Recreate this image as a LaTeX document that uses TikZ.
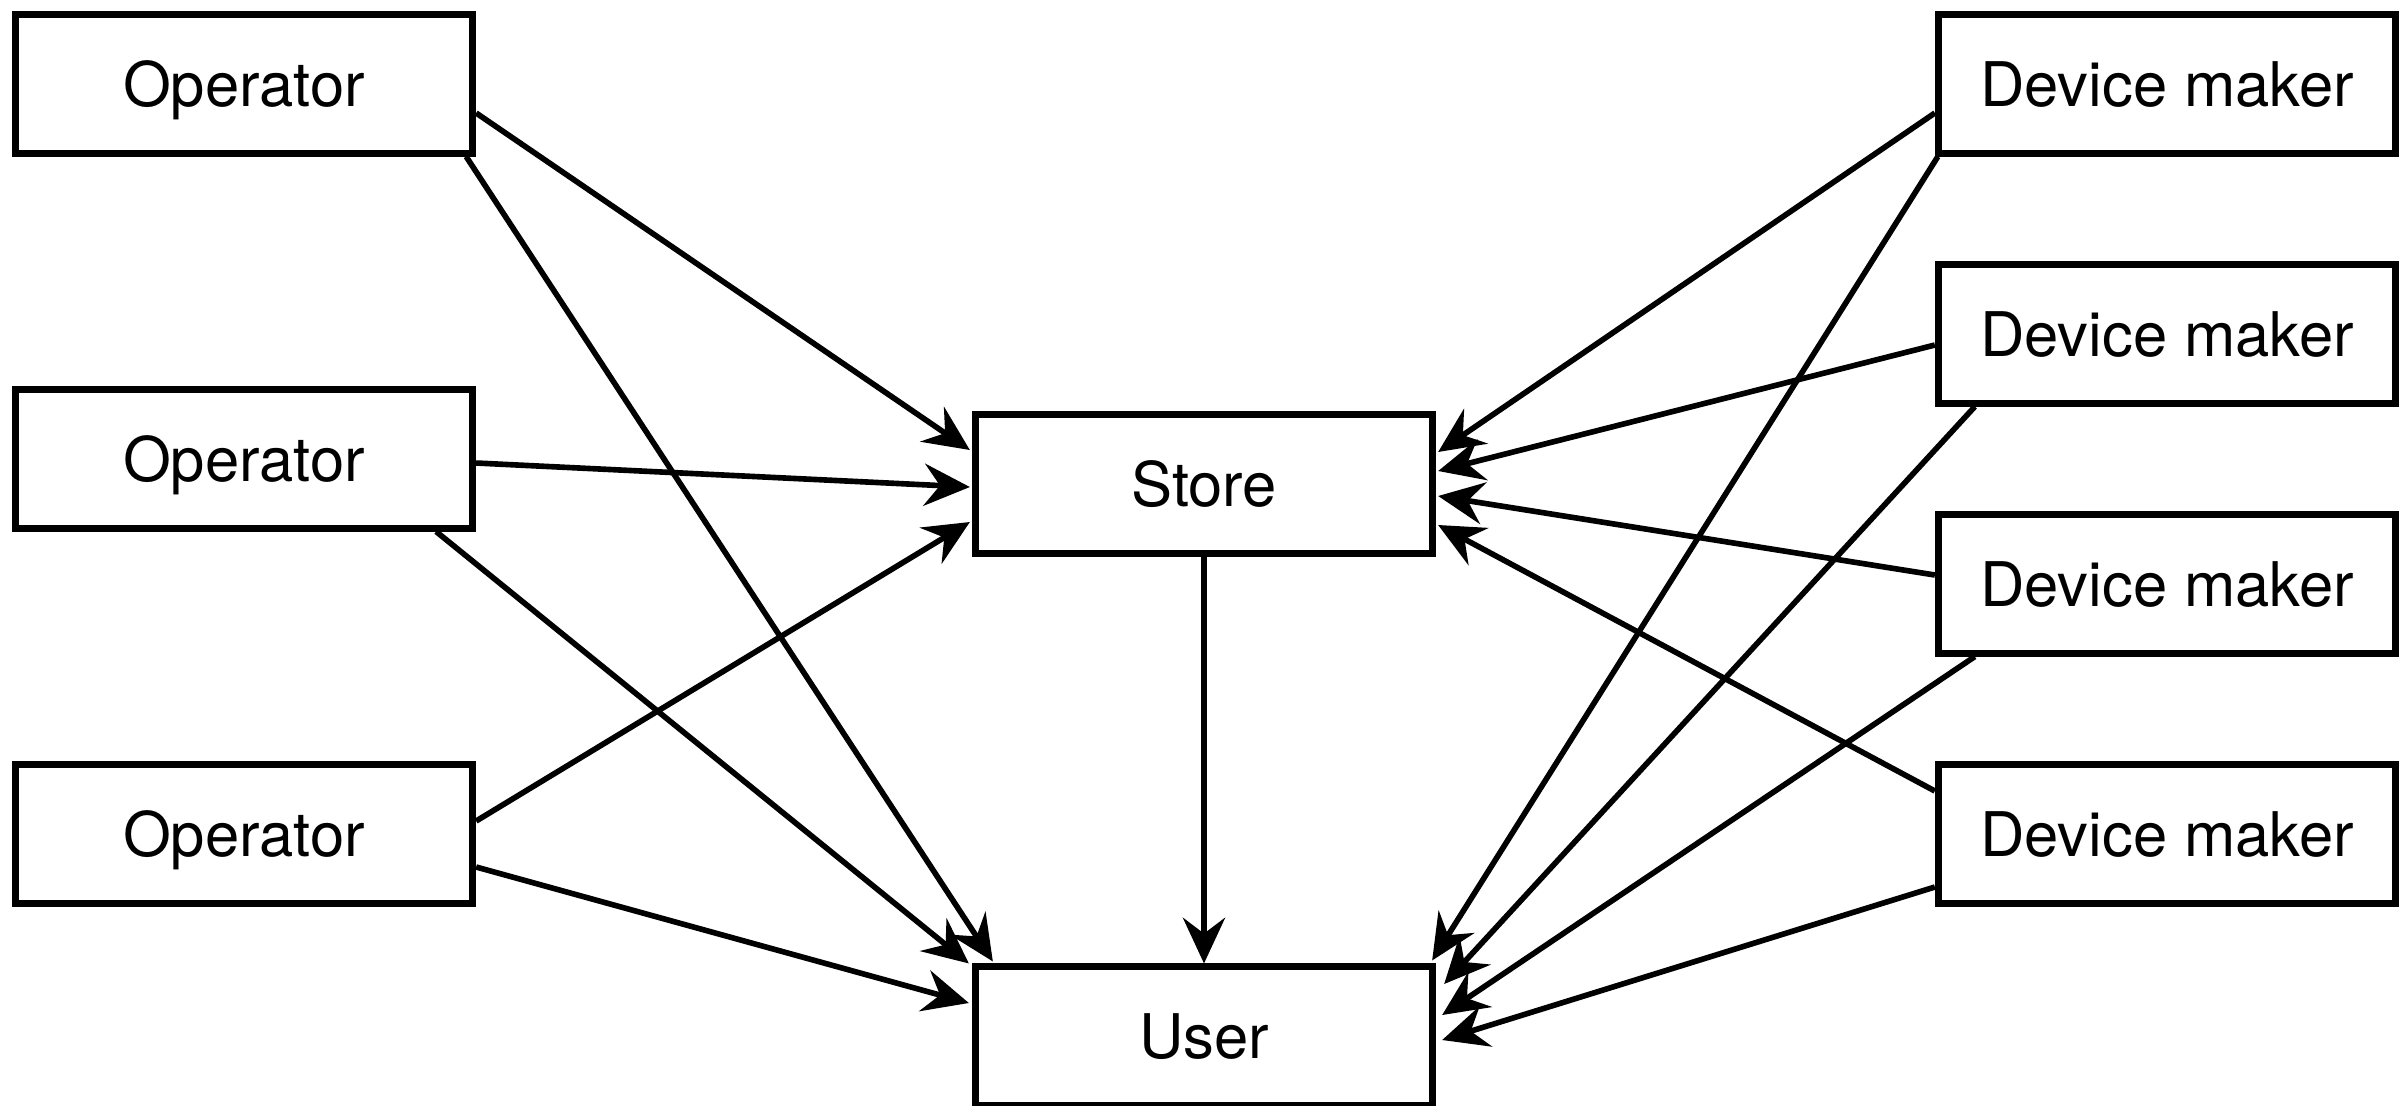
\documentclass[tikz,border=0pt]{standalone}
\usepackage{fontspec}
\setmainfont{TeX Gyre Heros}
\usetikzlibrary{arrows.meta,calc}
\begin{document}
\begin{tikzpicture}[x=0.01cm,y=-0.01cm,
  box/.style={draw=black,line width=2pt,fill=white,minimum width=4.57cm,minimum height=1.38cm,
    inner sep=0pt,font=\fontsize{17.5pt}{20pt}\selectfont,text height=12.6pt,text depth=0pt},
  conn/.style={draw=black,line width=1.6pt,-{Stealth[length=13pt,width=12pt,inset=4.5pt]}}]
\useasboundingbox (0,0) rectangle (2405,1105);
\node[box] (op1) at (244,84) {Operator};
\node[box] (op2) at (244,459) {Operator};
\node[box] (op3) at (244,834) {Operator};
\node[box] (store) at (1204,484) {Store};
\node[box] (user) at (1204,1036) {User};
\node[box] (dm1) at (2167,84) {Device maker};
\node[box] (dm2) at (2167,334) {Device maker};
\node[box] (dm3) at (2167,584) {Device maker};
\node[box] (dm4) at (2167,834) {Device maker};
% operators
\draw[conn] ($(op1.east)+(0,29)$) -- ($(store.west)+(-2,-34)$);
\draw[conn] ($(op1.south east)+(-10,0)$) -- ($(user.north west)+(21,-2)$);
\draw[conn] ($(op2.east)+(0,4)$) -- ($(store.west)+(-2,3)$);
\draw[conn] ($(op2.south east)+(-40,0)$) -- ($(user.north west)+(-3,0)$);
\draw[conn] ($(op3.east)+(0,-13)$) -- ($(store.west)+(-2,38)$);
\draw[conn] ($(op3.east)+(0,33)$) -- ($(user.west)+(-3,-33)$);
% store to user
\draw[conn] (store.south) -- (user.north);
% device makers
\draw[conn] ($(dm1.west)+(0,29)$) -- ($(store.east)+(2,-32)$);
\draw[conn] ($(dm1.south west)+(3,0)$) -- ($(user.north east)+(-4,-3)$);
\draw[conn] ($(dm2.west)+(0,11)$) -- ($(store.east)+(2,-13)$);
\draw[conn] ($(dm2.south west)+(40,0)$) -- ($(user.east)+(8,-52)$);
\draw[conn] ($(dm3.west)+(0,-9)$) -- ($(store.east)+(2,12)$);
\draw[conn] ($(dm3.south west)+(40,0)$) -- ($(user.east)+(6,-21)$);
\draw[conn] ($(dm4.west)+(0,-43)$) -- ($(store.east)+(2,41)$);
\draw[conn] ($(dm4.west)+(0,53)$) -- ($(user.east)+(6,4)$);
\end{tikzpicture}
\end{document}
